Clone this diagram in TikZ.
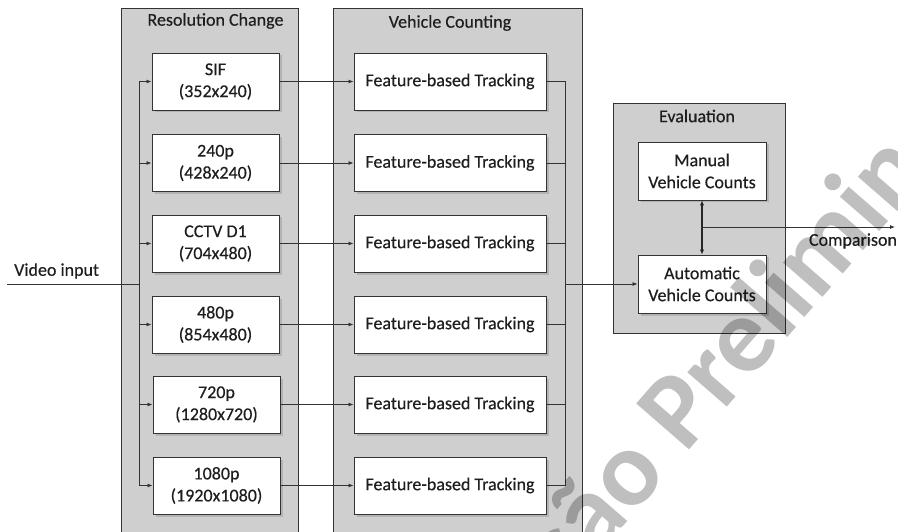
\documentclass[tikz,border=0pt]{standalone}
\usepackage{fontspec}
\setmainfont{Carlito}[FakeBold=0.35]
\newfontfamily\wmfont{Carlito}
\usetikzlibrary{arrows.meta,shadows}
\definecolor{panelgray}{HTML}{D0CFCF}
\definecolor{textcol}{HTML}{1E1E1E}
\definecolor{linecol}{HTML}{333333}
\begin{document}
\begin{tikzpicture}[x=1pt,y=-1pt,
  every node/.style={text=textcol},
  panel/.style={draw=linecol, fill=panelgray, line width=0.8pt},
  ptitle/.style={font=\fontsize{18}{22}\selectfont, inner sep=0pt},
  boxbase/.style={draw=linecol, fill=white, line width=0.9pt, align=center, inner sep=0pt,
    font=\fontsize{18}{22}\selectfont, minimum height=57pt,
    drop shadow={shadow xshift=2.5pt, shadow yshift=-2.5pt, opacity=0.35}},
  resbox/.style={boxbase, minimum width=127pt},
  fbox/.style={boxbase, minimum width=192pt},
  ebox/.style={boxbase, minimum width=128pt, minimum height=58pt},
  conn/.style={draw=linecol, line width=0.8pt},
  arr/.style={conn, -{Latex[length=5pt,width=4pt]}},
  dbl/.style={draw=black!85, line width=1.4pt, {Latex[length=5pt,width=4.5pt]}-{Latex[length=5pt,width=4.5pt]}},
]
\useasboundingbox (0,0) rectangle (898,532);
\clip (0,0) rectangle (898,532);

% panels
\draw[panel] (121,8) rectangle (298,545);
\draw[panel] (333,8) rectangle (582,545);
\draw[panel] (613,103) rectangle (785,333);
\node[ptitle] (tres) at (215.5,21) {Resolution Change};
\node[ptitle] (tveh) at (450,23) {Vehicle Counting};
\node[ptitle] (teval) at (697,116) {Evaluation};

% resolution boxes
\node[resbox] (r1) at (215.5,81.5) {SIF\\(352x240)};
\node[resbox] (r2) at (215.5,163) {240p\\(428x240)};
\node[resbox] (r3) at (215.5,243.5) {CCTV D1\\(704x480)};
\node[resbox] (r4) at (215.5,324.5) {480p\\(854x480)};
\node[resbox] (r5) at (216.5,404.5) {720p\\(1280x720)};
\node[resbox] (r6) at (216.5,485.5) {1080p\\(1920x1080)};

% tracking boxes
\node[fbox] (f1) at (450,81.5) {Feature-based Tracking};
\node[fbox] (f2) at (450,163) {Feature-based Tracking};
\node[fbox] (f3) at (450,243.5) {Feature-based Tracking};
\node[fbox] (f4) at (450,324.5) {Feature-based Tracking};
\node[fbox] (f5) at (450,404.5) {Feature-based Tracking};
\node[fbox] (f6) at (450,485.5) {Feature-based Tracking};

% evaluation boxes
\node[ebox] (man) at (702,171) {Manual\\Vehicle Counts};
\node[ebox] (auto) at (702,284) {Automatic\\Vehicle Counts};

% input
\coordinate (vin) at (7,284);
\coordinate (bus) at (139,284);
\node[font=\fontsize{18}{22}\selectfont, inner sep=0pt, anchor=west] (vlabel) at (14,271) {Video input};
\draw[conn] (vin) -- (bus);
\draw[conn] (bus |- r1) -- (bus |- r6);
\foreach \i in {1,...,6}{
  \draw[arr] (bus |- r\i) -- (r\i.west);
  \draw[arr] (r\i.east) -- (f\i.west);
}

% collector
\coordinate (col) at (565,284);
\foreach \i in {1,...,6}{
  \draw[conn] (f\i.east) -- (col |- f\i);
}
\draw[conn] (col |- f1) -- (col |- f6);
\draw[arr] (col) -- (auto.west);

% evaluation
\draw[dbl] (man.south) -- (auto.north);
\coordinate (cmp) at (702,227);
\coordinate (cmpE) at (895,227);
\draw[arr] (cmp) -- (cmpE);
\node[font=\fontsize{18}{22}\selectfont, inner sep=0pt] (clabel) at (853,241) {Comparison};

% watermark
\node[text=black, opacity=0.25, font=\wmfont\bfseries\fontsize{108}{108}\selectfont, inner sep=0pt,
  anchor=base west, rotate=49] (wm) at (470,703) {Versão Preliminar};
\end{tikzpicture}
\end{document}
